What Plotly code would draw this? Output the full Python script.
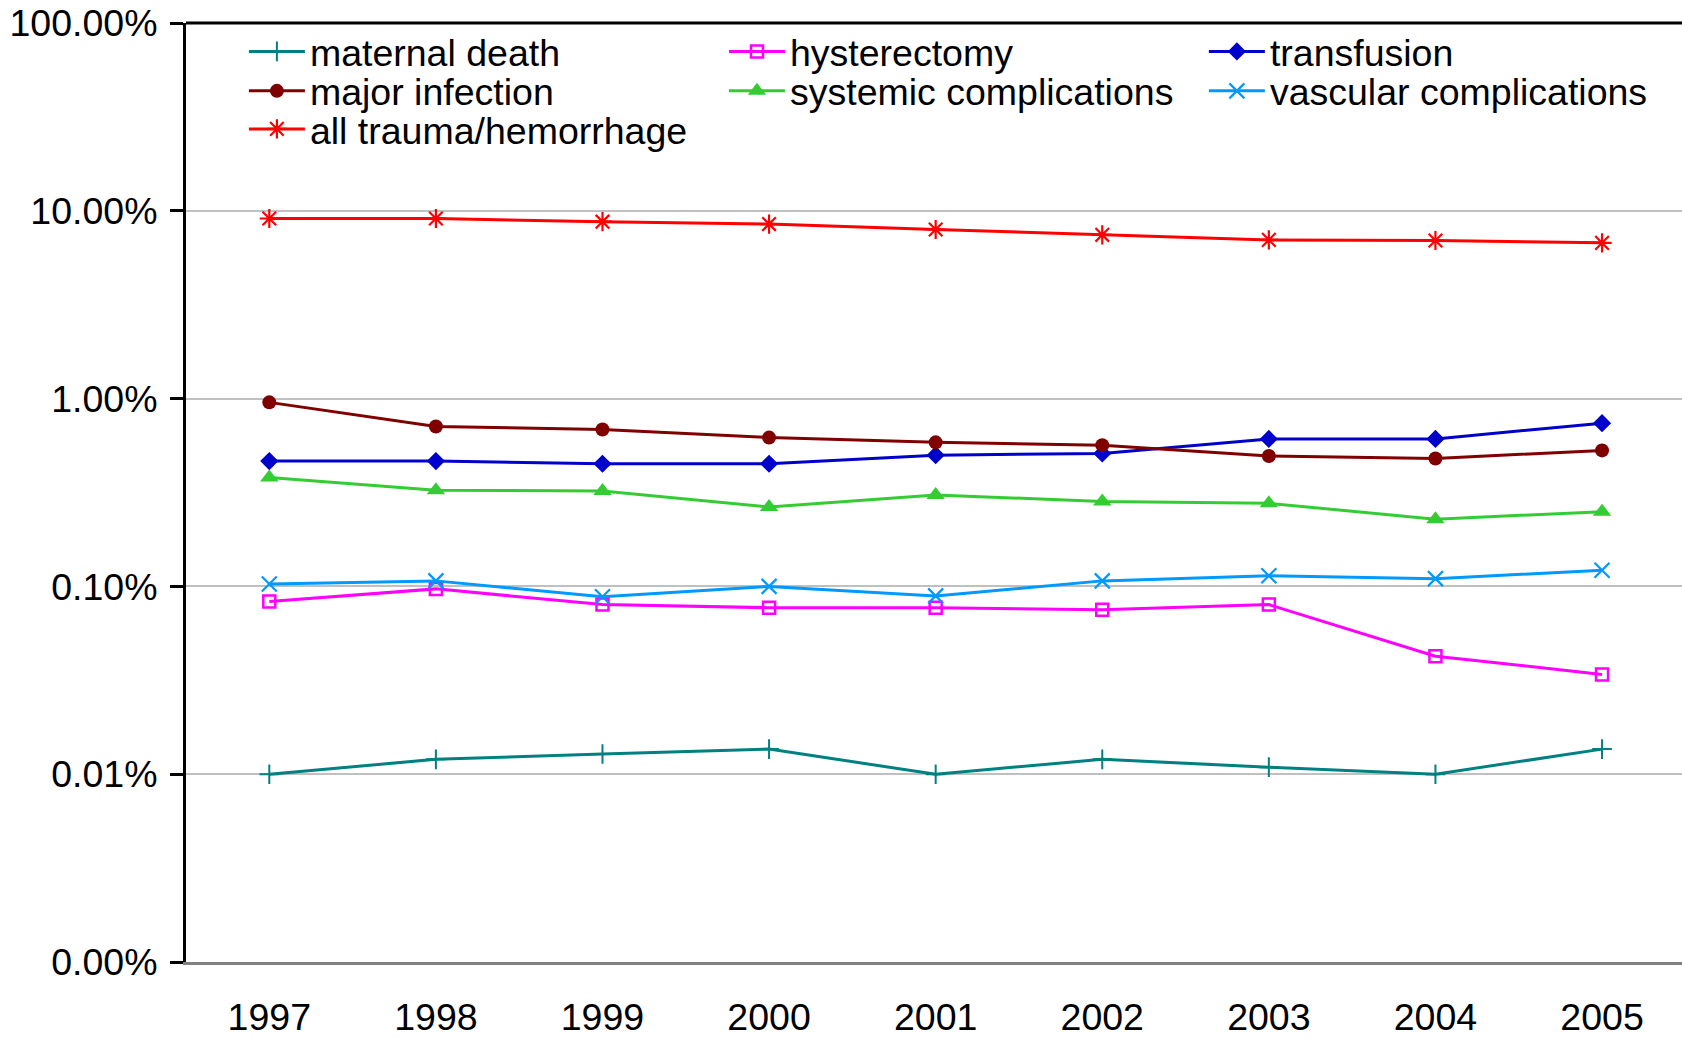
import plotly.graph_objects as go

# Years on the category axis
years = [1997, 1998, 1999, 2000, 2001, 2002, 2003, 2004, 2005]

# Rates per year, in percent
maternal_death = [0.0100, 0.0120, 0.0128, 0.0136, 0.0100, 0.0120, 0.0109, 0.0100, 0.0136]
hysterectomy = [0.083, 0.097, 0.080, 0.077, 0.077, 0.075, 0.080, 0.0425, 0.034]
transfusion = [0.465, 0.465, 0.450, 0.450, 0.500, 0.510, 0.610, 0.610, 0.740]
major_infection = [0.955, 0.710, 0.685, 0.620, 0.585, 0.565, 0.495, 0.480, 0.530]
systemic_complications = [0.380, 0.325, 0.322, 0.265, 0.307, 0.283, 0.277, 0.228, 0.250]
vascular_complications = [0.103, 0.107, 0.088, 0.100, 0.089, 0.107, 0.114, 0.110, 0.122]
all_trauma_hemorrhage = [9.10, 9.10, 8.75, 8.50, 7.95, 7.45, 7.00, 6.95, 6.75]

# Log-axis tick positions and their labels
y_tickvals = [0.001, 0.01, 0.1, 1, 10, 100]
y_ticktext = ["0.00%", "0.01%", "0.10%", "1.00%", "10.00%", "100.00%"]

FONT = "Arial, Liberation Sans, sans-serif"
FS = 37.5

# Legend grid: three columns, three rows (paper coordinates of the plot area)
col_x = [0.0387, 0.3596, 0.6804]
row_y = [0.9696, 0.9276, 0.8871]

series = [
    # name, values, colour, symbol, size, marker line width, legend column, legend row
    ("maternal death", maternal_death, "#008080", "cross-thin-open", 14, 2, 0, 0),
    ("hysterectomy", hysterectomy, "#FF00FF", "square-open", 12, 2.5, 1, 0),
    ("transfusion", transfusion, "#0000CC", "diamond", 14, 0, 2, 0),
    ("major infection", major_infection, "#800000", "circle", 14, 0, 0, 1),
    ("systemic complications", systemic_complications, "#33CC33", "triangle-up", 16, 0, 1, 1),
    ("vascular complications", vascular_complications, "#0099FF", "x-thin-open", 15, 2.2, 2, 1),
    ("all trauma/hemorrhage", all_trauma_hemorrhage, "#FF0000", "asterisk-open", 16, 2.2, 0, 2),
]

fig = go.Figure()
legends = {}
for i, (name, vals, color, symbol, size, mlw, col, row) in enumerate(series):
    key = "legend" if i == 0 else f"legend{i + 1}"
    fig.add_trace(go.Scatter(
        x=years, y=vals, name=name, mode="lines+markers",
        line=dict(color=color, width=3),
        marker=dict(symbol=symbol, size=size, color=color,
                    line=dict(color=color, width=mlw)),
        legend=key, showlegend=True,
    ))
    legends[key] = dict(
        x=col_x[col], y=row_y[row], xanchor="left", yanchor="middle",
        orientation="h", bgcolor="rgba(0,0,0,0)", borderwidth=0,
        font=dict(family=FONT, size=FS, color="#000000"),
        itemwidth=56, itemclick=False, itemdoubleclick=False,
        visible=True,
    )

fig.update_layout(
    width=1682, height=1039,
    margin=dict(l=186, r=0, t=23, b=77),
    paper_bgcolor="#FFFFFF", plot_bgcolor="#FFFFFF",
    font=dict(family=FONT, size=FS, color="#000000"),
    showlegend=True,
    xaxis=dict(
        range=[1996.5, 2005.48], tickmode="array", tickvals=years,
        ticktext=[str(y) for y in years],
        showgrid=False, zeroline=False, ticks="",
        showline=True, linecolor="#808080", linewidth=3,
        ticklabelstandoff=20, automargin=False,
        tickfont=dict(family=FONT, size=FS, color="#000000"),
    ),
    yaxis=dict(
        type="log", range=[-3, 2], tickmode="array",
        tickvals=y_tickvals, ticktext=y_ticktext,
        showgrid=True, gridcolor="#C0C0C0", gridwidth=1.8,
        zeroline=False, showline=True, linecolor="#000000", linewidth=3,
        ticks="outside", ticklen=13, tickwidth=3, tickcolor="#000000",
        ticklabelstandoff=5, automargin=False,
        tickfont=dict(family=FONT, size=FS, color="#000000"),
    ),
    shapes=[dict(type="line", xref="paper", yref="paper", x0=0, x1=1, y0=1, y1=1,
                 line=dict(color="#000000", width=3))],
    **legends,
)

fig.write_html("out.html")
